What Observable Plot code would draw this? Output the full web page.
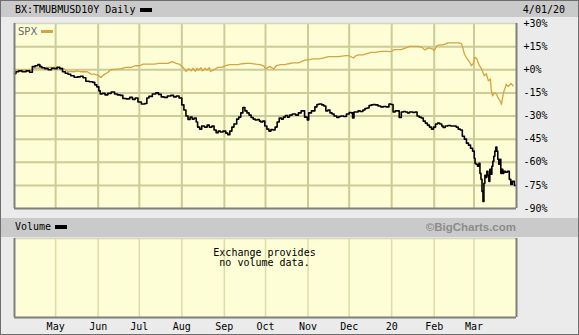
<!DOCTYPE html>
<html><head><meta charset="utf-8">
<script src="https://cdn.jsdelivr.net/npm/d3@7"></script>
<script src="https://cdn.jsdelivr.net/npm/@observablehq/plot@0.6"></script>
<style>
html,body{margin:0;padding:0;background:#ebebeb;}
#root{position:relative;width:579px;height:335px;background:#ebebeb;overflow:hidden;font-family:"DejaVu Sans Mono",monospace;font-size:10px;color:#000;}
#frame{position:absolute;left:0;top:0;width:577px;height:333px;border:1px solid #6e6e6e;pointer-events:none;}
.band{position:absolute;left:1px;width:577px;background:#cacaca;}
.sw{position:absolute;height:4px;width:12px;background:#000;}
.t{position:absolute;white-space:pre;line-height:10px;}
#root svg{position:absolute;left:0;}
</style></head><body>
<div id="root">
  <div class="band" style="top:1px;height:16px"></div>
  <div class="t" style="left:15px;top:5px">BX:TMUBMUSD10Y Daily</div>
  <div class="sw" style="left:140px;top:8px"></div>
  <div class="t" style="right:14px;top:5px">4/01/20</div>
  <div class="band" style="top:218px;height:19px"></div>
  <div class="t" style="left:15px;top:222px">Volume</div>
  <div class="sw" style="left:55px;top:225px"></div>
  <div class="t" style="right:63px;top:221px;font-family:'Liberation Sans',Arial,sans-serif;font-weight:bold;font-size:11.5px;line-height:12px;color:#8c8c8c">©BigCharts.com</div>
  <div id="main"></div>
  <div id="vol"></div>
  <div class="t" style="left:18px;top:27px;font-family:'DejaVu Sans',sans-serif;color:#666">SPX</div>
  <div class="sw" style="left:41px;top:30px;height:3px;background:#d6a33f"></div>
  <div id="frame"></div>
</div>
<script>
// ---- data (day offsets from 2019-04-01, percent change) ----
const tnxDays = [0,2,4,7,10,12,14,16,18,19,21,23,26,28,30,32,34,36,38,40,42,45,47,49,51,53,56,58,59,61,62,63,65,67,69,72,74,76,78,80,83,85,87,89,91,94,96,97,99,102,104,106,108,110,113,115,117,119,121,123,124,126,127,129,130,132,133,134,136,137,140,141,143,145,146,148,149,151,153,155,156,158,159,161,163,164,166,167,169,170,172,173,175,176,178,179,180,182,183,185,186,188,189,191,192,194,195,197,198,200,201,204,206,208,210,213,214,215,218,220,221,223,225,226,228,229,231,232,234,236,237,239,241,243,245,246,247,248,250,251,253,255,256,258,259,261,262,264,266,268,270,272,274,275,277,278,280,281,283,284,286,287,289,290,291,293,294,296,297,299,300,302,303,305,306,308,309,311,312,313,315,317,319,321,323,324,326,327,329,330,332,333,335,335.4,336.1,336.8,338.3,339.0,339.7,340.5,341.2,341.9,342.6,343.3,344.0,344.8,345.5,346.2,346.9,347.7,348.4,349.1,349.8,350.6,351.3,352.0,352.7,353.5,354.2,354.9,355.6,356.4,357.1,358.6,360.0,361.5,362.2,363.7,365.2];
const tnxPct = [-2.6,-1.3,-0.7,-1.3,-0.7,-1.6,2.0,2.6,3.3,2.0,1.3,0.7,0,1.0,0.7,1.6,0.7,-1.3,-2.3,-2.9,-3.9,-4.9,-4.6,-4.2,-5.2,-7.5,-7.8,-8.2,-9.8,-11.1,-13.7,-15.7,-15.3,-16.3,-15.3,-14.4,-15.7,-16.3,-16.6,-18.6,-18.9,-17.9,-19.2,-18.3,-20.9,-22.2,-21.9,-18.3,-17.3,-15.7,-15.0,-16.0,-17.6,-17.9,-17.0,-16.6,-17.6,-17.0,-18.3,-22.8,-26.1,-30.0,-32.3,-30.7,-32.0,-31.3,-33.9,-37.2,-38.5,-36.5,-37.2,-35.9,-37.2,-36.5,-39.1,-40.8,-39.8,-40.4,-39.8,-41.1,-42.1,-39.8,-37.2,-35.2,-32.0,-30.7,-28.0,-24.5,-26.7,-28.0,-29.4,-31.0,-32.0,-32.6,-32.3,-33.3,-33.9,-33.3,-36.5,-38.5,-39.8,-38.8,-39.1,-37.2,-33.9,-31.3,-32.0,-30.7,-29.7,-30.7,-29.4,-28.7,-29.4,-28.0,-26.7,-30.7,-32.6,-28.0,-26.7,-24.1,-22.5,-22.2,-22.8,-23.5,-26.7,-26.1,-28.0,-28.7,-30.0,-31.0,-30.3,-30.0,-30.3,-28.7,-27.7,-28.0,-31.3,-27.4,-27.4,-26.7,-27.1,-26.1,-25.1,-24.8,-23.2,-22.8,-22.5,-22.8,-23.5,-24.1,-23.8,-24.1,-22.2,-22.5,-27.4,-26.7,-26.7,-31.0,-27.4,-27.1,-27.4,-28.0,-27.4,-27.4,-27.7,-27.4,-30.0,-30.7,-31.3,-33.3,-34.6,-35.9,-37.2,-38.5,-37.2,-35.2,-34.6,-35.2,-36.5,-37.5,-36.5,-36.2,-36.5,-36.5,-37.2,-38.5,-39.1,-43.1,-45.0,-47.6,-48.9,-50.9,-52.8,-57.4,-60.7,-61.3,-62.6,-60.7,-67.2,-71.1,-78.9,-85.4,-73.7,-68.5,-69.8,-65.9,-68.5,-72.4,-64.6,-67.8,-62.6,-59.4,-56.1,-52.8,-50.2,-52.8,-58.1,-61.3,-58.1,-67.2,-64.6,-67.2,-65.9,-66.5,-65.9,-71.1,-74.4,-72.4,-75.0];
const spxDays = [0,4,8,12,15,18,21,24,26,29,31,34,36,39,41,43,46,48,51,53,56,58,61,63,65,68,70,73,76,78,81,85,88,91,94,98,102,105,108,112,115,118,120,123,125,127,129,130,132,133,134,136,137,139,140,142,143,145,148,151,154,157,160,163,166,169,172,176,179,182,183,186,189,191,194,197,200,203,207,209,212,215,218,222,225,229,232,236,239,242,244,247,249,251,254,257,260,263,266,269,272,274,277,280,282,285,288,291,294,297,299,301,302,305,306,308,310,312,314,316,319,322,324,326,327,328,329.5,331,332.5,333,334.5,335.5,337,337.5,339,340.5,341,342.5,344,345.5,347,347.5,348.5,350,351.5,352.5,354,355,356.5,358,358.5,360,362,363.5];
const spxPct = [-0.3,-0.3,0,-0.3,1.0,1.0,1.0,1.5,1.6,1.5,0.7,1.0,0.7,-1.3,-1.0,-1.3,-0.7,-1.3,-1.3,-1.3,-2.8,-2.8,-3.6,-5.0,-3.3,-1.8,0,0.3,0.5,0.7,1.5,1.5,2.6,2.6,3.7,3.7,3.7,4.2,4.2,4.2,5.2,4.2,3.7,1.5,-1.1,0.7,-0.7,1.0,-1.0,1.0,-0.3,1.3,-0.7,1.0,-0.3,1.3,-1.1,-0.2,1.5,1.5,2.6,3.3,3.3,3.3,3.9,4.1,4.1,3.6,3.3,2.3,0.5,2.2,0.5,2.6,3.3,3.3,3.9,4.4,4.4,5.2,6.2,6.5,7.0,7.0,7.5,8.5,8.5,8.5,8.8,9.1,9.1,7.6,9.1,9.6,9.6,10.4,11.3,11.3,11.7,11.9,11.9,11.7,13.0,13.0,13.0,14.0,15.2,15.2,15.2,14.7,12.9,13.7,14.2,13.4,12.4,15.7,16.1,16.1,16.6,17.4,17.4,17.4,17.4,16.8,13.7,10.2,7.8,5.9,3.9,2.6,3.9,8.0,7.2,5.9,2.6,0.7,-0.7,-3.9,-2.6,-7.2,-5.9,-12.4,-17.0,-14.8,-15.9,-18.1,-20.2,-22.4,-14.8,-11.1,-9.3,-10.9,-8.9,-10.4];
const monthStarts = ["2019-05-01","2019-06-01","2019-07-01","2019-08-01","2019-09-01","2019-10-01","2019-11-01","2019-12-01","2020-01-01","2020-02-01","2020-03-01"];
const monthLabels = ["May","Jun","Jul","Aug","Sep","Oct","Nov","Dec","20","Feb","Mar"];
const yTicks = [30,15,0,-15,-30,-45,-60,-75,-90];

// ---- build ----
const start = Date.UTC(2019,3,1), end = Date.UTC(2020,3,1);
const toDate = d => new Date(start + d*864e5);
const tnx = tnxDays.map((d,i) => ({date: toDate(d), pct: tnxPct[i]}));
const spx = spxDays.map((d,i) => ({date: toDate(d), pct: spxPct[i]}));
const months = monthStarts.map(s => new Date(s + "T00:00:00Z"));
const labelOf = new Map(months.map((m,i) => [+m, monthLabels[i]]));
const gridY = yTicks.filter(v => v < 30 && v > -90);
const fmt = v => (v >= 0 ? "+" : "-") + Math.abs(v) + "%";
const xDomain = [new Date(start), new Date(end)];
const bg = "#fdfdd6", grid = "#cccc98", edge = "#7f7f7f";

const main = Plot.plot({
  width: 579, height: 198, marginTop: 6, marginBottom: 7, marginLeft: 14, marginRight: 63,
  style: {background: "transparent", fontFamily: "'DejaVu Sans Mono', monospace", fontSize: "10px", color: "#000", overflow: "visible"},
  x: {type: "utc", domain: xDomain, axis: null},
  y: {domain: [-90, 30], axis: "right", ticks: yTicks, tickFormat: fmt, tickSize: 0, tickPadding: 7, label: null},
  marks: [
    Plot.frame({fill: bg}),
    Plot.ruleY(gridY, {stroke: grid, strokeWidth: 2}),
    Plot.ruleX(months, {stroke: grid, strokeWidth: 2}),
    Plot.ruleY([30], {stroke: "#d6d6c0", strokeWidth: 1.5}),
    Plot.line(spx, {x: "date", y: "pct", stroke: "#d6a33f", strokeWidth: 1.3}),
    Plot.line(tnx, {x: "date", y: "pct", stroke: "#000", strokeWidth: 1.6, curve: "step"}),
    Plot.ruleY([-90], {stroke: edge, strokeWidth: 2}),
    Plot.ruleX([xDomain[0], xDomain[1]], {stroke: edge, strokeWidth: 2})
  ]
});
main.style.top = "17px";
document.getElementById("main").appendChild(main);

const vol = Plot.plot({
  width: 579, height: 99, marginTop: 2, marginBottom: 18, marginLeft: 14, marginRight: 63,
  style: {background: "transparent", fontFamily: "'DejaVu Sans Mono', monospace", fontSize: "10px", color: "#000", overflow: "visible"},
  x: {type: "utc", domain: xDomain, ticks: months, tickFormat: d => labelOf.get(+d), tickSize: 0, tickPadding: 5, label: null},
  y: {domain: [0, 1], axis: null},
  marks: [
    Plot.frame({fill: bg}),
    Plot.ruleX(months, {stroke: "#dcdcaa", strokeWidth: 1.5}),
    Plot.ruleY([1], {stroke: "#d6d6c0", strokeWidth: 1.5}),
    Plot.text(["Exchange provides\nno volume data."], {frameAnchor: "top", lineAnchor: "middle", dy: 19, dx: -1, lineHeight: 1, fill: "#000", fontSize: 10}),
    Plot.ruleY([0], {stroke: edge, strokeWidth: 2}),
    Plot.ruleX([xDomain[0], xDomain[1]], {stroke: edge, strokeWidth: 2})
  ]
});
vol.style.top = "236px";
document.getElementById("vol").appendChild(vol);
</script>
</body></html>
